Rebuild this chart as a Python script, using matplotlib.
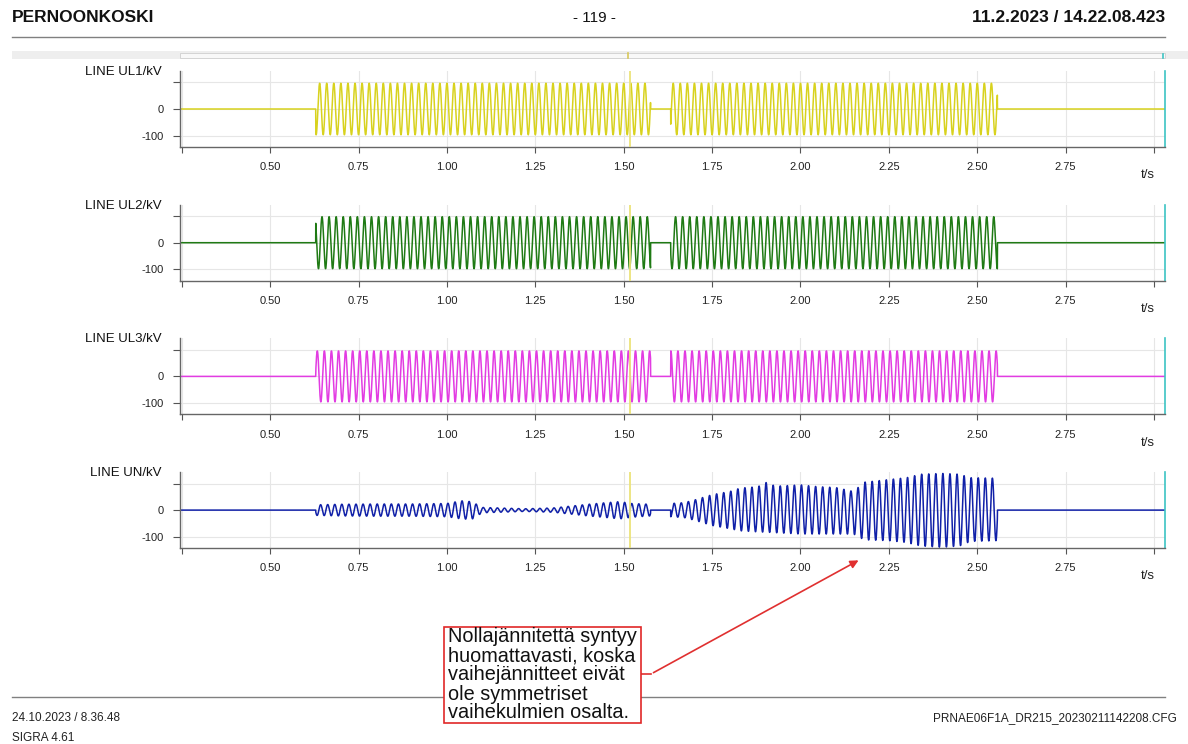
import numpy as np
import matplotlib
matplotlib.use("Agg")
import matplotlib.pyplot as plt
from matplotlib.patches import Rectangle, FancyArrowPatch
from matplotlib.lines import Line2D
from matplotlib.transforms import Affine2D

plt.rcParams['font.family'] = ['Liberation Sans', 'DejaVu Sans']

W, H = 1188, 744

# --- data read from the recording ---
channels = ["LINE UL1/kV", "LINE UL2/kV", "LINE UL3/kV", "LINE UN/kV"]
colors = ["#d8d21e", "#1f7a14", "#e23ce2", "#1020a8"]
freq_hz = 50.0
t_limits = (0.245, 3.031)
burst1 = (0.629, 1.576)
burst2 = (1.633, 2.557)
cursor_t = 1.517
phase_amp = [97, 98, 96]           # kV peak, UL1..UL3
phase_shift_deg = [90, -30, 210]

# UN envelope knots: time (s), positive peak (kV), negative peak (kV)
un_t1 = [0.629, 0.70, 0.80, 0.90, 1.00, 1.04, 1.07, 1.10, 1.15, 1.22, 1.30, 1.35, 1.40, 1.45, 1.49, 1.52, 1.576]
un_top1 = [20, 22, 23, 23, 25, 35, 32, 10, 8, 5, 8, 15, 22, 28, 32, 25, 22]
un_bot1 = [20, 22, 23, 23, 25, 33, 35, 10, 8, 5, 8, 15, 22, 28, 33, 27, 22]
un_t2 = [1.633, 1.67, 1.70, 1.75, 1.80, 1.83, 1.88, 1.90, 1.93, 2.00, 2.05, 2.10, 2.15, 2.18, 2.25, 2.30, 2.34, 2.40, 2.45, 2.48, 2.557]
un_top2 = [25, 28, 38, 58, 70, 83, 88, 105, 90, 95, 88, 85, 70, 105, 115, 122, 135, 138, 135, 122, 120]
un_bot2 = [25, 28, 38, 58, 70, 78, 82, 83, 85, 90, 90, 90, 90, 112, 115, 122, 135, 140, 135, 118, 115]

xticks = [0.25, 0.50, 0.75, 1.00, 1.25, 1.50, 1.75, 2.00, 2.25, 2.50, 2.75, 3.00]
xtick_labels = ["", "0.50", "0.75", "1.00", "1.25", "1.50", "1.75", "2.00", "2.25", "2.50", "2.75", ""]
yticks = [-100, 0, 100]
ytick_labels = ["-100", "0", ""]

note_lines = ["Nollajännitettä syntyy", "huomattavasti, koska", "vaihejännitteet eivät",
              "ole symmetriset", "vaihekulmien osalta."]

t = np.arange(t_limits[0], t_limits[1], 0.0002)
on = ((t >= burst1[0]) & (t <= burst1[1])) | ((t >= burst2[0]) & (t <= burst2[1]))


def phase_wave(amp, shift):
    w = amp * np.sin(2 * np.pi * freq_hz * t + np.radians(shift))
    return np.where(on, w, 0.0)


def un_wave():
    s = np.sin(2 * np.pi * freq_hz * t + np.radians(40))
    top = np.zeros_like(t)
    bot = np.zeros_like(t)
    m1 = (t >= burst1[0]) & (t <= burst1[1])
    m2 = (t >= burst2[0]) & (t <= burst2[1])
    top[m1] = np.interp(t[m1], un_t1, un_top1)
    bot[m1] = np.interp(t[m1], un_t1, un_bot1)
    top[m2] = np.interp(t[m2], un_t2, un_top2)
    bot[m2] = np.interp(t[m2], un_t2, un_bot2)
    return np.where(s > 0, top * s, bot * s)


waves = [phase_wave(a, p) for a, p in zip(phase_amp, phase_shift_deg)] + [un_wave()]

fig = plt.figure(figsize=(W / 100, H / 100), dpi=100)
pix = Affine2D().scale(1.0 / W, -1.0 / H).translate(0, 1) + fig.transFigure

ax_left, ax_right = 180, 1165
ax_h = 76
for i, (name, col, y) in enumerate(zip(channels, colors, waves)):
    top_px = 71 + 133.7 * i
    ax = fig.add_axes([ax_left / W, 1 - (top_px + ax_h) / H,
                       (ax_right - ax_left) / W, ax_h / H])
    ax.plot(t, y, color=col, lw=1.1)
    ax.axvline(cursor_t, color="#ece37a", lw=1.3, zorder=3)
    ax.set_xlim(t_limits)
    ax.set_ylim(-143, 143)
    ax.set_xticks(xticks)
    ax.set_xticklabels(xtick_labels)
    ax.set_yticks(yticks)
    ax.set_yticklabels(ytick_labels)
    ax.grid(True, color="#e6e6e6", lw=0.8)
    ax.set_axisbelow(True)
    ax.spines['top'].set_visible(False)
    ax.spines['right'].set_color("#3cc4c4")
    ax.spines['right'].set_linewidth(1.2)
    for s in ('left', 'bottom'):
        ax.spines[s].set_color("#666666")
        ax.spines[s].set_linewidth(1.0)
    ax.tick_params(axis='x', direction='out', length=4, width=0.8, color="#555555",
                   labelsize=8, labelcolor="#222222", pad=7)
    ax.tick_params(axis='y', direction='out', length=5, width=0.8, color="#555555",
                   labelsize=8, labelcolor="#222222", pad=7)
    ax.tick_params(axis='y', which='both', right=False)
    ax.text(1.0 - 17 / (ax_right - ax_left), -0.37, "t/s", transform=ax.transAxes,
            fontsize=9.5, color="#222222", ha='center', va='center')
    fig.text(162, top_px + 1, name, transform=pix, fontsize=9.5, color="#111111",
             ha='right', va='center')

# header
fig.text(12, 18, "PERNOONKOSKI", transform=pix, fontsize=12.5, fontweight='bold',
         ha='left', va='center', color="#111111")
fig.text(594, 18, "- 119 -", transform=pix, fontsize=11, ha='center', va='center',
         color="#111111")
fig.text(1165, 18, "11.2.2023 / 14.22.08.423", transform=pix, fontsize=12.5,
         fontweight='bold', ha='right', va='center', color="#111111")
fig.add_artist(Line2D([12, 1165], [37, 37], transform=pix, color="#808080", lw=1.0))

# time bar band
fig.add_artist(Rectangle((12, 51), 1176, 8, transform=pix, facecolor="#eeeeee",
                         edgecolor='none'))
fig.add_artist(Rectangle((180, 53), 985, 5, transform=pix, facecolor="#f8f8f8",
                         edgecolor="#cfcfcf", lw=0.6))
fig.add_artist(Line2D([628, 628], [53, 58], transform=pix, color="#d8c85a", lw=1.2))
fig.add_artist(Line2D([1163, 1163], [54, 58], transform=pix, color="#3cc4c4", lw=1.2))

# footer
fig.add_artist(Line2D([12, 1165], [697, 697], transform=pix, color="#808080", lw=1.0))
fig.text(12, 718, "24.10.2023 / 8.36.48", transform=pix, fontsize=8.5, ha='left',
         va='center', color="#222222")
fig.text(12, 738, "SIGRA 4.61", transform=pix, fontsize=8.5, ha='left',
         va='center', color="#222222")
fig.text(1177, 718, "PRNAE06F1A_DR215_20230211142208.CFG", transform=pix, fontsize=8.5,
         ha='right', va='center', color="#222222")

# annotation
fig.add_artist(Rectangle((444, 627), 197, 96, transform=pix, facecolor="white",
                         edgecolor="#e02828", lw=1.2, zorder=5))
for k, line in enumerate(note_lines):
    fig.text(448, 637 + 19 * k, line, transform=pix, fontsize=14.3,
             ha='left', va='center', color="#111111", zorder=6)
fig.add_artist(Line2D([641, 651], [674, 674], transform=pix, color="#e03030", lw=1.2))
fig.add_artist(FancyArrowPatch((651, 674), (861, 559), transform=pix,
                               arrowstyle='-|>', mutation_scale=12, color="#e03030",
                               lw=1.2))

fig.savefig("out.png", dpi=100)
